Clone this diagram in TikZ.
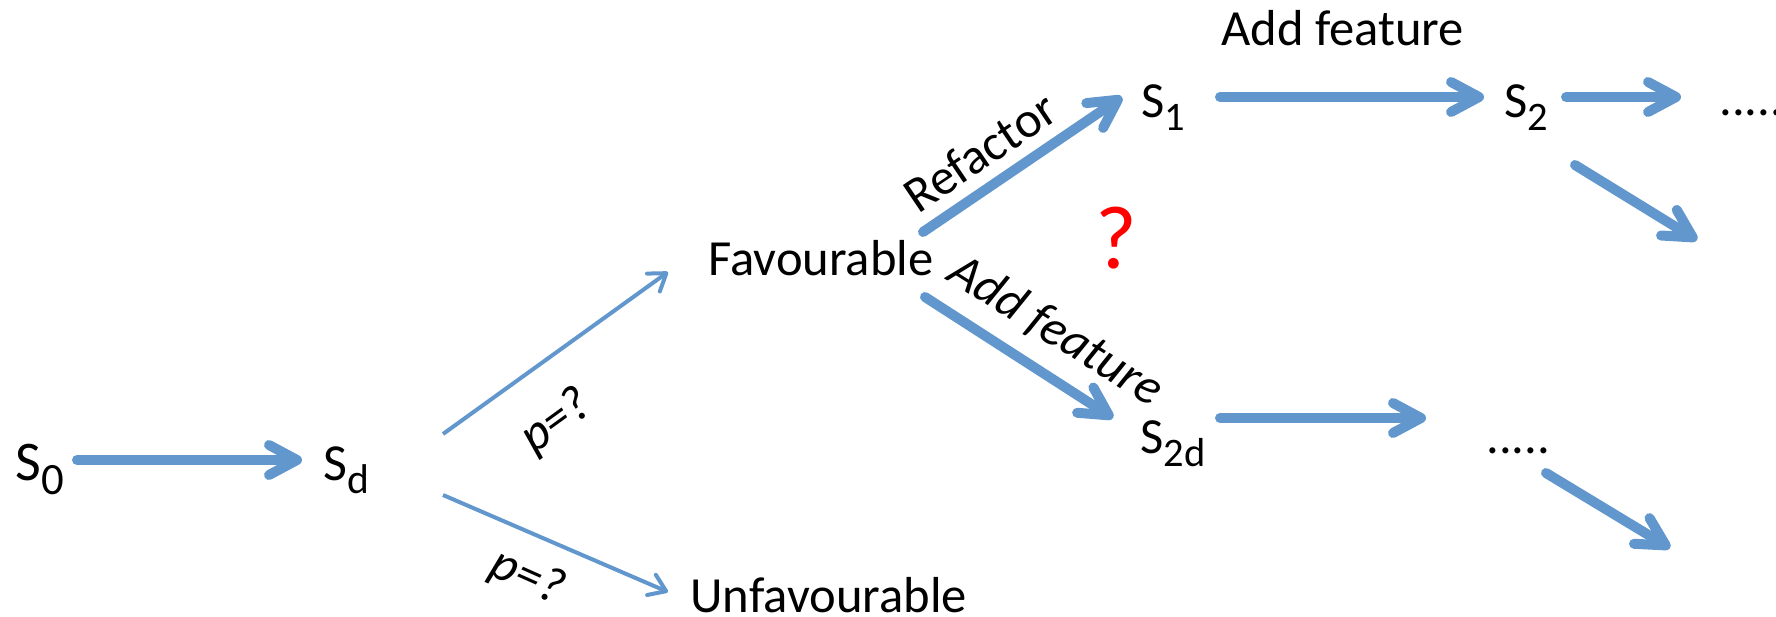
\documentclass[tikz,border=0pt]{standalone}
\usepackage{fontspec}
\setmainfont{Carlito}
\usepackage{graphicx}
\usetikzlibrary{arrows.meta}
\definecolor{arrowblue}{RGB}{98,151,205}
\newcommand\Ssub[1]{S\raisebox{-0.26em}{\scalebox{0.8}{#1}}}
\begin{document}
\begin{tikzpicture}[x=0.5pt,y=-0.5pt,
  txt/.style={inner sep=0pt, font=\fontsize{25.3}{29}\selectfont},
  fat/.style={draw=arrowblue, line width=5pt, line cap=round,
    -{Straight Barb[length=14pt,width=15pt,round]},
    preaction={draw=black!18, transform canvas={shift={(0.9pt,-1.3pt)}}}},
  slim/.style={draw=arrowblue, line width=2pt,
    -{Straight Barb[length=8pt,width=11pt,round]}}]
\useasboundingbox (0,0) rectangle (1776,616);
% state nodes
\node[txt, anchor=base west, font=\fontsize{28}{32}\selectfont] (s0) at (15,480) {\Ssub{0}};
\node[txt, anchor=base west, font=\fontsize{26}{30}\selectfont] (sd) at (323,480) {\Ssub{d}};
\node[txt, anchor=base west] (fav) at (708,275) {Favourable};
\node[txt, anchor=base west] (unfav) at (690,612) {Unfavourable};
\node[txt, anchor=base west] (s1) at (1141,117) {\Ssub{1}};
\node[txt, anchor=base west] (s2) at (1504,117) {\Ssub{2}};
\node[txt, anchor=base west] (s2d) at (1140,453) {\Ssub{2d}};
\node[txt, anchor=base west] (dotsa) at (1719,115) {.....};
\node[txt, anchor=base west] (dotsb) at (1486,453) {.....};
% labels
\node[txt, anchor=base west] (addtop) at (1221,45) {Add feature};
\node[txt, rotate=34] (refl) at (980,152) {Refactor};
\node[txt, rotate=-32] (addl) at (1056,331) {\itshape Add feature};
\node[txt, rotate=36] (pa) at (557,422) {\itshape p=?};
\node[txt, rotate=-24] (pb) at (527,578) {\itshape p=?};
\node[inner sep=0pt, text=red, font=\fontsize{45}{48}\selectfont] (q) at (1116,238) {?};
% arrow end points
\coordinate (a1s) at (77,460);   \coordinate (a1e) at (302,460);
\coordinate (b1s) at (443,434);  \coordinate (b1e) at (668,272);
\coordinate (b2s) at (443,495);  \coordinate (b2e) at (668,592);
\coordinate (c1s) at (923,232);  \coordinate (c1e) at (1122,97);
\coordinate (c2s) at (925,297);  \coordinate (c2e) at (1113,418);
\coordinate (d1s) at (1220,97);  \coordinate (d1e) at (1484,97);
\coordinate (d2s) at (1566,97);  \coordinate (d2e) at (1681,97);
\coordinate (d3s) at (1575,165); \coordinate (d3e) at (1697,240);
\coordinate (e1s) at (1220,418); \coordinate (e1e) at (1426,418);
\coordinate (e2s) at (1546,473); \coordinate (e2e) at (1670,548);
% arrows
\draw[fat] (a1s) -- (a1e);
\draw[slim] (b1s) -- (b1e);
\draw[slim] (b2s) -- (b2e);
\draw[fat] (c1s) -- (c1e);
\draw[fat] (c2s) -- (c2e);
\draw[fat] (d1s) -- (d1e);
\draw[fat] (d2s) -- (d2e);
\draw[fat] (d3s) -- (d3e);
\draw[fat] (e1s) -- (e1e);
\draw[fat] (e2s) -- (e2e);
\end{tikzpicture}
\end{document}
